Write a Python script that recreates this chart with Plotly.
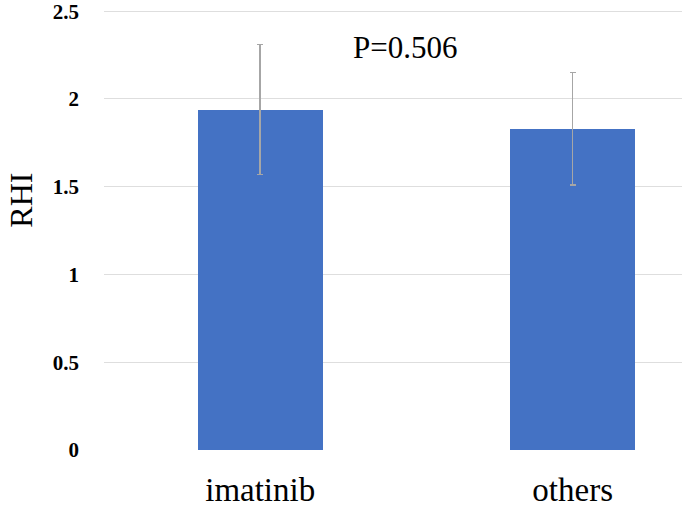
import plotly.graph_objects as go

categories = ["imatinib", "others"]
rhi_mean = [1.94, 1.83]
rhi_err = [0.37, 0.32]
y_ticks = [0, 0.5, 1, 1.5, 2, 2.5]
y_tick_labels = ["0", "0.5", "1", "1.5", "2", "2.5"]
p_text = "P=0.506"
y_title = "RHI"

serif = "Liberation Serif, Times New Roman, serif"

fig = go.Figure()
fig.add_trace(go.Bar(
    x=categories,
    y=rhi_mean,
    width=0.4,
    marker=dict(color="#4472C4", line=dict(width=0)),
    error_y=dict(type="data", array=rhi_err, visible=True,
                 color="#A6A6A6", thickness=1.5, width=3),
))

fig.update_layout(
    width=685, height=507,
    margin=dict(l=104, r=3, t=10, b=57, autoexpand=False),
    paper_bgcolor="white", plot_bgcolor="white",
    showlegend=False,
    bargap=0,
    xaxis=dict(
        range=[-0.5, 1.35], automargin=False,
        showgrid=False, zeroline=False, showline=False,
        ticks="", ticklabelstandoff=17, ticklabeloverflow="allow",
        tickfont=dict(family=serif, size=33, color="black"),
    ),
    yaxis=dict(
        range=[0, 2.507], automargin=False,
        tickvals=y_ticks, ticktext=y_tick_labels,
        showgrid=True, gridcolor="#DEDEDE", gridwidth=1,
        zeroline=False, showline=False,
        ticks="", ticklabelstandoff=24, ticklabeloverflow="allow",
        tickfont=dict(family=serif, size=21, color="black", weight="bold"),
    ),
    annotations=[
        dict(text=p_text, xref="paper", yref="paper", x=0.52, y=0.915,
             xanchor="center", yanchor="middle", showarrow=False,
             font=dict(family=serif, size=31, color="black")),
        dict(text=y_title, xref="paper", yref="paper", x=-0.145, y=0.567,
             xanchor="center", yanchor="middle", showarrow=False, textangle=-90,
             font=dict(family=serif, size=32, color="black")),
    ],
)

fig.write_html("out.html",
               config={"displayModeBar": False},
               post_script="document.body.style.margin='0';document.body.style.padding='0';")
